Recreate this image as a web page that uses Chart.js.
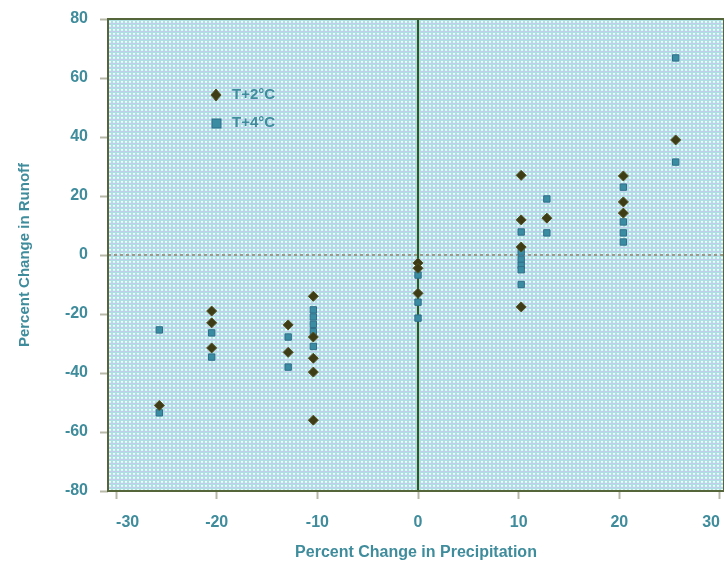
<!DOCTYPE html>
<html>
<head>
<meta charset="utf-8">
<script src="https://cdn.jsdelivr.net/npm/chart.js@4/dist/chart.umd.min.js"></script>
<style>
  body { margin: 0; background: #ffffff; }
  #wrap { width: 724px; height: 565px; overflow: hidden; }
</style>
</head>
<body>
<div id="wrap"><canvas id="chart" width="724" height="565"></canvas></div>
<script>
// percent change in precipitation / runoff
const t2Precip = [-25.7, -20.5, -20.5, -20.5, -12.9, -12.9, -10.4, -10.4, -10.4, -10.4, -10.4,
                  0, 0, 0, 10.25, 10.25, 10.25, 10.25, 12.8, 20.4, 20.4, 20.4, 25.6];
const t2Runoff = [-51, -19, -23, -31.5, -23.7, -33, -14, -27.8, -35, -39.7, -56,
                  -2.7, -4.5, -13, 27, 11.9, 2.7, -17.6, 12.5, 26.8, 18, 14.2, 39];

const t4Precip = [-25.7, -25.7, -20.5, -20.5, -12.9, -12.9, -10.4, -10.4, -10.4, -10.4, -10.4,
                  0, 0, 0, 10.25, 10.25, 10.25, 10.25, 10.25, 10.25, 12.8, 12.8,
                  20.4, 20.4, 20.4, 20.4, 25.6, 25.6];
const t4Runoff = [-25.4, -53.5, -26.4, -34.6, -27.8, -38, -18.6, -21, -23.5, -26, -31,
                  -6.8, -16, -21.4, 7.8, 1, -1.5, -3.5, -5, -10, 19, 7.5,
                  23, 11.2, 7.5, 4.4, 66.8, 31.5];

const seriesLabels = ["T+2°C", "T+4°C"];
const xTicks = [-30, -20, -10, 0, 10, 20, 30];
const yTicks = [-80, -60, -40, -20, 0, 20, 40, 60, 80];

const textColor = "#3f8c9c";
const t2Color = "#3e3c16";
const t4Color = "#3a8ca2";
const fontFamily = "'Liberation Sans', Arial, sans-serif";

function toPoints(xs, ys) {
    return xs.map((x, i) => ({ x: x, y: ys[i] }));
}

// dotted light-cyan fill like the original
function makePattern(ctx) {
    const c = document.createElement("canvas");
    c.width = 4; c.height = 4;
    const p = c.getContext("2d");
    p.fillStyle = "#ace0e4";
    p.fillRect(0, 0, 4, 4);
    p.fillStyle = "#c4cceb";
    p.fillRect(0, 3, 4, 1);
    p.fillStyle = "#f4fdfc";
    p.fillRect(1, 1, 2, 1);
    p.fillStyle = "#dcf5f5";
    p.fillRect(1, 2, 2, 1);
    return ctx.createPattern(c, "repeat");
}

const plotDecor = {
    id: "plotDecor",
    beforeDatasetsDraw(chart) {
        const { ctx, chartArea: a, scales } = chart;
        ctx.save();
        ctx.fillStyle = makePattern(ctx);
        ctx.fillRect(a.left, a.top, a.right - a.left, a.bottom - a.top);

        // zero line on y
        const y0 = scales.y.getPixelForValue(0);
        ctx.strokeStyle = "#9c9a8a";
        ctx.lineWidth = 2;
        ctx.setLineDash([3, 3]);
        ctx.beginPath();
        ctx.moveTo(a.left, y0);
        ctx.lineTo(a.right, y0);
        ctx.stroke();

        // zero line on x
        const x0 = scales.x.getPixelForValue(0);
        ctx.setLineDash([]);
        ctx.strokeStyle = "#2f5a1e";
        ctx.lineWidth = 2;
        ctx.beginPath();
        ctx.moveTo(x0, a.top);
        ctx.lineTo(x0, a.bottom);
        ctx.stroke();

        // frame
        ctx.strokeStyle = "#55663a";
        ctx.lineWidth = 2;
        ctx.strokeRect(a.left, a.top, a.right - a.left, a.bottom - a.top);
        ctx.restore();
    },
    afterDatasetsDraw(chart) {
        // legend inside the plot
        const { ctx } = chart;
        ctx.save();
        chart.data.datasets.forEach((ds, i) => {
            const y = 95 + i * 28;
            ctx.fillStyle = ds.backgroundColor;
            ctx.strokeStyle = ds.borderColor;
            ctx.lineWidth = 1;
            if (ds.pointStyle === "rect") {
                ctx.fillRect(212, y - 4, 9, 9);
                ctx.strokeRect(212, y - 4, 9, 9);
            } else {
                ctx.beginPath();
                ctx.moveTo(216, y - 6);
                ctx.lineTo(221, y);
                ctx.lineTo(216, y + 6);
                ctx.lineTo(211, y);
                ctx.closePath();
                ctx.fill();
                ctx.stroke();
            }
            ctx.fillStyle = textColor;
            ctx.font = "bold 15px " + fontFamily;
            ctx.textBaseline = "middle";
            ctx.fillText(ds.label, 232, y);
        });
        ctx.restore();
    }
};

new Chart(document.getElementById("chart"), {
    type: "scatter",
    data: {
        datasets: [
            {
                label: seriesLabels[0],
                data: toPoints(t2Precip, t2Runoff),
                pointStyle: "rectRot",
                pointRadius: 5,
                backgroundColor: t2Color,
                borderColor: "#55521e",
                borderWidth: 1
            },
            {
                label: seriesLabels[1],
                data: toPoints(t4Precip, t4Runoff),
                pointStyle: "rect",
                pointRadius: 4.5,
                backgroundColor: t4Color,
                borderColor: "#2f6f8a",
                borderWidth: 1
            }
        ]
    },
    options: {
        responsive: false,
        animation: false,
        layout: { autoPadding: false, padding: { top: 19, right: 0, left: 16, bottom: 3 } },
        plugins: {
            legend: { display: false },
            tooltip: { enabled: false }
        },
        scales: {
            x: {
                type: "linear",
                min: -30.8,
                max: 30.4,
                afterBuildTicks: (axis) => { axis.ticks = xTicks.map(v => ({ value: v })); },
                afterFit: (axis) => {
                    axis.paddingRight = 0;
                    axis.paddingLeft = 0;
                    axis.height = 71;
                },
                ticks: {
                    color: textColor,
                    padding: 14,
                    align: "inner",
                    font: { size: 16, weight: "bold", family: fontFamily }
                },
                grid: { drawOnChartArea: false, tickLength: 8, tickColor: "#b8b8a8", tickWidth: 2 },
                border: { display: false },
                title: {
                    display: true,
                    text: "Percent Change in Precipitation",
                    color: textColor,
                    padding: { top: 0, bottom: 0 },
                    font: { size: 16, weight: "bold", family: fontFamily }
                }
            },
            y: {
                type: "linear",
                min: -80,
                max: 80,
                afterBuildTicks: (axis) => { axis.ticks = yTicks.map(v => ({ value: v })); },
                afterFit: (axis) => {
                    axis.width = 92;
                    axis.paddingTop = 0;
                    axis.paddingBottom = 0;
                },
                ticks: {
                    color: textColor,
                    padding: 12,
                    font: { size: 16, weight: "bold", family: fontFamily }
                },
                grid: { drawOnChartArea: false, tickLength: 8, tickColor: "#b8b8a8", tickWidth: 2 },
                border: { display: false },
                title: {
                    display: true,
                    text: "Percent Change in Runoff",
                    color: textColor,
                    padding: { top: 0, bottom: 0 },
                    font: { size: 15, weight: "bold", family: fontFamily }
                }
            }
        }
    },
    plugins: [plotDecor]
});
</script>
</body>
</html>
